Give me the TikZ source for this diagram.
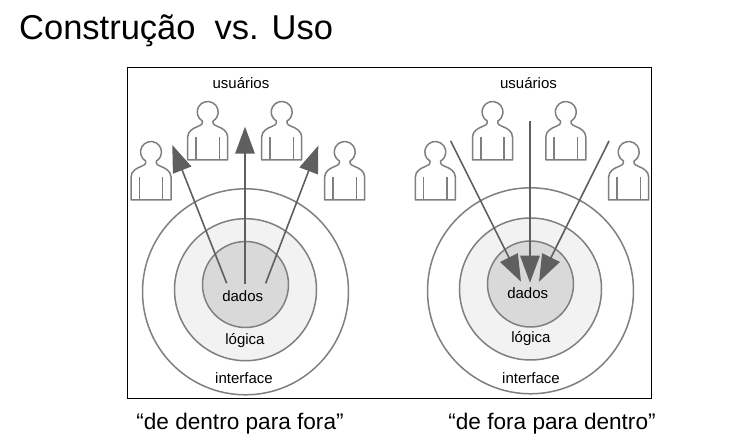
\documentclass[tikz,border=0pt]{standalone}
\usepackage{fontspec}
\setmainfont{Liberation Sans}
\usetikzlibrary{arrows.meta}

\definecolor{linhacinza}{HTML}{7F7F7F}
\definecolor{setacinza}{HTML}{5F5F5F}
\definecolor{cinzaclaro}{HTML}{F2F2F2}
\definecolor{cinzamedio}{HTML}{D9D9D9}

\tikzset{
    camada/.style={circle, draw=linhacinza, line width=1.5pt, inner sep=0pt, outer sep=0pt},
    rotulo/.style={anchor=base, inner sep=0pt, font=\fontsize{15}{18}\selectfont},
    legenda/.style={anchor=base, inner sep=0pt, font=\fontsize{22.6}{26}\selectfont},
    seta/.style={draw=setacinza, fill=setacinza, line width=1.6pt, -{Triangle[length=27pt, width=19.5pt]}},
    usuario/.pic={
        \draw[linhacinza, line width=1.5pt, line join=round]
            (-20,0) -- (-20,23) .. controls (-20,29) and (-14,32) .. (-10,33.5)
            .. controls (-7,34.5) and (-5,35.5) .. (-5.25,38.9)
            arc[start angle=240, end angle=-60, radius=10.5]
            .. controls (5,35.5) and (7,34.5) .. (10,33.5)
            .. controls (14,32) and (20,29) .. (20,23) -- (20,0) -- cycle;
        \draw[linhacinza, line width=1.5pt] (-11.7,0) -- (-11.7,23);
        \draw[linhacinza, line width=1.5pt] (11.7,0) -- (11.7,23);
    }
}

\begin{document}
\begin{tikzpicture}[x=1pt, y=1pt]
    \useasboundingbox (0,0) rectangle (742,434);

    \node[anchor=base west, inner sep=0pt, font=\fontsize{34.5}{40}\selectfont] (titulo) at (19,394) {Construção\ \ vs. Uso};

    \node[draw=black, line width=0.8pt, minimum width=524pt, minimum height=331pt, inner sep=0pt, outer sep=0pt] (quadro) at (389,201.5) {};

    % lado esquerdo
    \node[camada, fill=white, minimum size=206pt] (interfaceA) at (245.5,142.2) {};
    \node[camada, fill=cinzaclaro, minimum size=142pt] (logicaA) at (245.5,144.3) {};
    \node[camada, fill=cinzamedio, minimum size=86pt] (dadosA) at (245.5,149.5) {};

    % lado direito
    \node[camada, fill=white, minimum size=206pt] (interfaceB) at (530.5,143.2) {};
    \node[camada, fill=cinzaclaro, minimum size=142pt] (logicaB) at (530.5,145) {};
    \node[camada, fill=cinzamedio, minimum size=86pt] (dadosB) at (530.5,150) {};

    \pic (usuarioA1) at (151,234) {usuario};
    \pic (usuarioA2) at (207.7,274) {usuario};
    \pic (usuarioA3) at (281.7,274) {usuario};
    \pic (usuarioA4) at (344.7,234) {usuario};

    \pic (usuarioB1) at (435.3,234) {usuario};
    \pic (usuarioB2) at (492.5,274) {usuario};
    \pic (usuarioB3) at (565.8,274) {usuario};
    \pic (usuarioB4) at (628.7,234) {usuario};

    \coordinate (saidaA1) at (226.7,150.7);
    \coordinate (saidaA2) at (245,150);
    \coordinate (saidaA3) at (265.7,150.7);
    \coordinate (pontaA1) at (172.3,289);
    \coordinate (pontaA2) at (245,307.3);
    \coordinate (pontaA3) at (318.3,288.3);

    \coordinate (saidaB1) at (450.7,293);
    \coordinate (saidaB2) at (530,313.3);
    \coordinate (saidaB3) at (609,293);
    \coordinate (pontaB1) at (521,152.3);
    \coordinate (pontaB2) at (530,151.3);
    \coordinate (pontaB3) at (539,152.3);

    \draw[seta] (saidaA1) -- (pontaA1);
    \draw[seta] (saidaA2) -- (pontaA2);
    \draw[seta] (saidaA3) -- (pontaA3);

    \draw[seta] (saidaB1) -- (pontaB1);
    \draw[seta] (saidaB2) -- (pontaB2);
    \draw[seta] (saidaB3) -- (pontaB3);

    \node[rotulo] (usuariosA) at (241,345) {usuários};
    \node[rotulo] (textoDadosA) at (242.7,132) {dados};
    \node[rotulo] (textoLogicaA) at (245,89) {lógica};
    \node[rotulo] (textoInterfaceA) at (244,50) {interface};

    \node[rotulo] (usuariosB) at (528.5,345) {usuários};
    \node[rotulo] (textoDadosB) at (527.7,135.5) {dados};
    \node[rotulo] (textoLogicaB) at (531,91) {lógica};
    \node[rotulo] (textoInterfaceB) at (531,50) {interface};

    \node[legenda] (legendaA) at (240,5) {“de dentro para fora”};
    \node[legenda] (legendaB) at (552,5) {“de fora para dentro”};
\end{tikzpicture}
\end{document}
